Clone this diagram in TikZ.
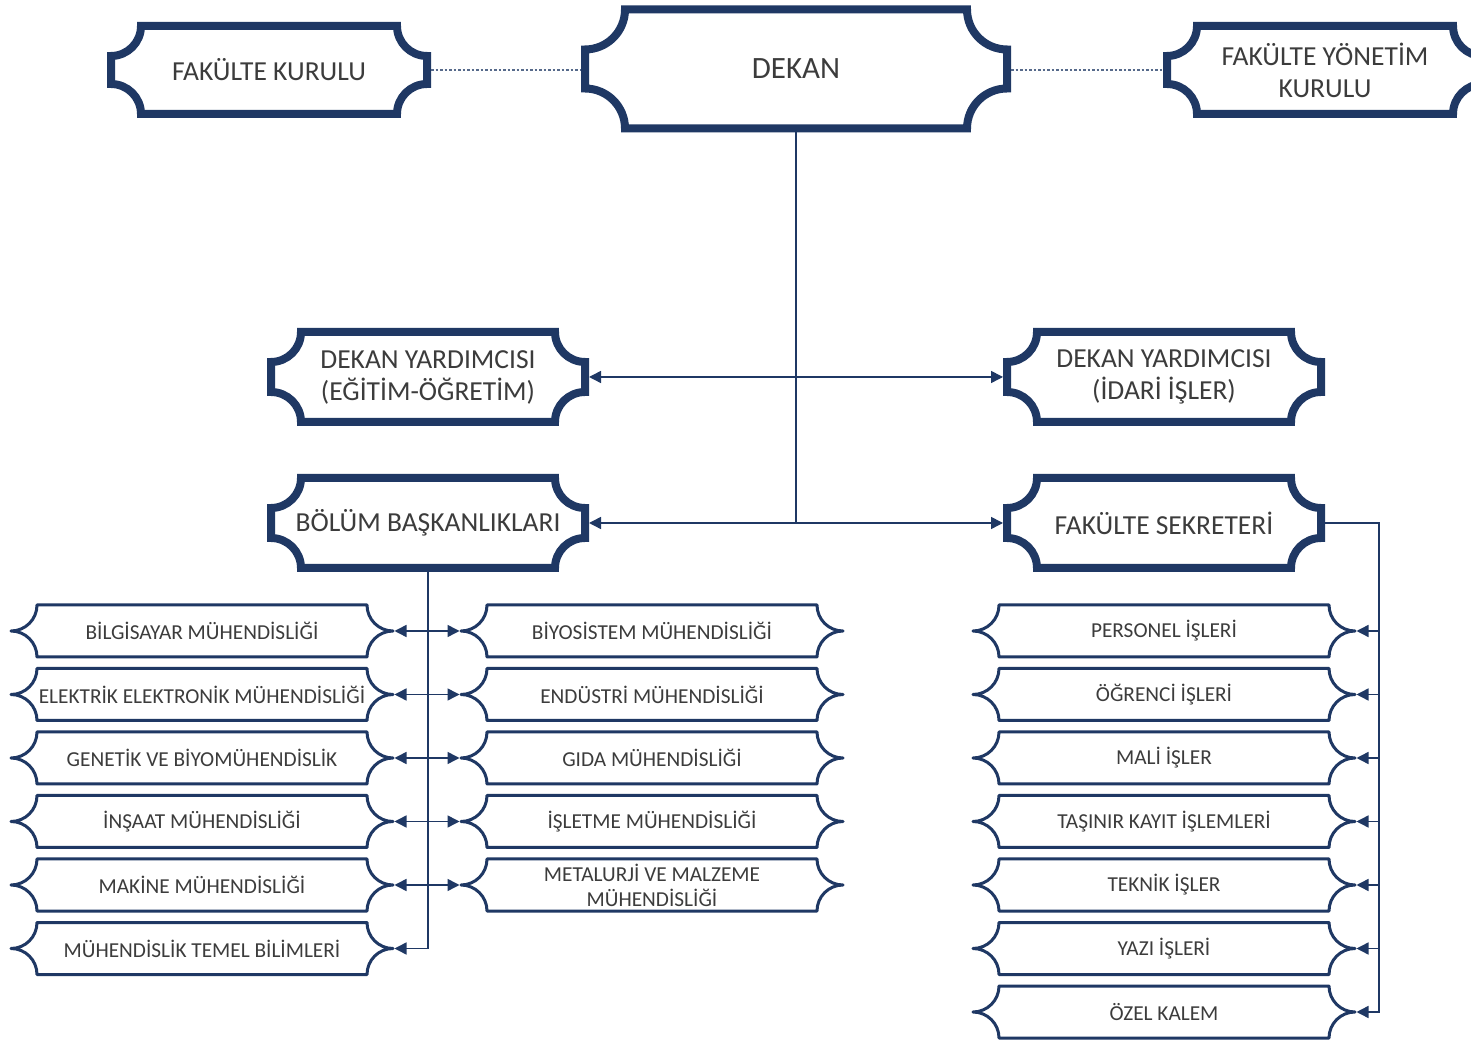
\documentclass[tikz,border=0pt]{standalone}
\usepackage{fontspec}
\setmainfont{Carlito}
\usetikzlibrary{arrows.meta,calc}
\definecolor{navy}{RGB}{31,56,100}
\definecolor{txt}{RGB}{60,60,60}
\tikzset{
  bigline/.style={draw=navy,line width=8pt,fill=white},
  smallline/.style={draw=navy,line width=3pt,fill=white,line join=round},
  bignode/.style={inner sep=0pt,outer sep=0pt,text=txt,align=center},
  smallnode/.style={inner sep=0pt,outer sep=0pt,text=txt,align=center,
    minimum width=385pt,minimum height=52pt,font=\fontsize{21.3}{25}\selectfont},
  conn/.style={draw=navy,line width=1.5pt},
  tip/.style={-{Triangle[length=12pt,width=12pt]}},
  tips/.style={{Triangle[length=12pt,width=12pt]}-{Triangle[length=12pt,width=12pt]}},
  dotline/.style={draw=navy!75,line width=1.5pt,dash pattern=on 2.5pt off 2pt}
}
% name, cx, cy, half width, half height, corner radius, font size, text
\newcommand\plaque[8]{%
  \draw[bigline] ({#2-#4+#6},{#3+#5}) -- ({#2+#4-#6},{#3+#5})
    arc[start angle=180,end angle=270,radius=#6] -- ({#2+#4},{#3-#5+#6})
    arc[start angle=90,end angle=180,radius=#6] -- ({#2-#4+#6},{#3-#5})
    arc[start angle=0,end angle=90,radius=#6] -- ({#2-#4},{#3+#5-#6})
    arc[start angle=270,end angle=360,radius=#6] -- cycle;
  \node[bignode,minimum width={2*#4+8},minimum height={2*#5+8},
        font=\fontsize{#7}{32}\selectfont] (#1) at (#2,#3) {#8};
}
% name, cx, cy, text
\newcommand\scroll[4]{%
  \draw[smallline] ({#2-165},{#3+26}) -- ({#2+165},{#3+26})
    arc[start angle=180,end angle=270,radius=26]
    arc[start angle=90,end angle=180,radius=26]
    -- ({#2-165},{#3-26})
    arc[start angle=0,end angle=90,radius=26]
    arc[start angle=270,end angle=360,radius=26] -- cycle;
  \node[smallnode] (#1) at (#2,#3) {#4};
}
\begin{document}
\begin{tikzpicture}[x=1pt,y=1pt]
\useasboundingbox (0,0) rectangle (1471,1041);
\clip (0,0) rectangle (1471,1041);
\fill[white] (0,0) rectangle (1471,1041);

% top row
\plaque{fk}{269}{971}{158}{44}{30}{27.5}{FAKÜLTE KURULU}
\plaque{dekan}{796}{972}{211}{59.5}{40}{31}{DEKAN}
\plaque{fyk}{1325}{971}{158}{44}{30}{27.5}{FAKÜLTE YÖNETİM\\KURULU}

% middle rows
\plaque{dy1}{428}{664}{157}{45}{30}{27.5}{DEKAN YARDIMCISI\\(EĞİTİM-ÖĞRETİM)}
\plaque{dy2}{1164}{664}{157}{45}{30}{27.5}{DEKAN YARDIMCISI\\(İDARİ İŞLER)}
\plaque{bb}{428}{518}{157}{45}{30}{27.5}{BÖLÜM BAŞKANLIKLARI}
\plaque{fs}{1164}{518}{157}{45}{30}{27.5}{FAKÜLTE SEKRETERİ}

% left column
\scroll{l1}{202}{410}{BİLGİSAYAR MÜHENDİSLİĞİ}
\scroll{l2}{202}{346.5}{ELEKTRİK ELEKTRONİK MÜHENDİSLİĞİ}
\scroll{l3}{202}{283}{GENETİK VE BİYOMÜHENDİSLİK}
\scroll{l4}{202}{219.5}{İNŞAAT MÜHENDİSLİĞİ}
\scroll{l5}{202}{156}{MAKİNE MÜHENDİSLİĞİ}
\scroll{l6}{202}{92.5}{MÜHENDİSLİK TEMEL BİLİMLERİ}

% middle column
\scroll{m1}{652}{410}{BİYOSİSTEM MÜHENDİSLİĞİ}
\scroll{m2}{652}{346.5}{ENDÜSTRİ MÜHENDİSLİĞİ}
\scroll{m3}{652}{283}{GIDA MÜHENDİSLİĞİ}
\scroll{m4}{652}{219.5}{İŞLETME MÜHENDİSLİĞİ}
\scroll{m5}{652}{156}{METALURJİ VE MALZEME\\MÜHENDİSLİĞİ}

% right column
\scroll{r1}{1164}{410}{PERSONEL İŞLERİ}
\scroll{r2}{1164}{346.5}{ÖĞRENCİ İŞLERİ}
\scroll{r3}{1164}{283}{MALİ İŞLER}
\scroll{r4}{1164}{219.5}{TAŞINIR KAYIT İŞLEMLERİ}
\scroll{r5}{1164}{156}{TEKNİK İŞLER}
\scroll{r6}{1164}{92.5}{YAZI İŞLERİ}
\scroll{r7}{1164}{29}{ÖZEL KALEM}

% connectors
\draw[dotline] (fk.east) -- (fk.east -| dekan.west);
\draw[dotline] (dekan.east |- fyk.west) -- (fyk.west);
\draw[conn] (dekan.south) -- (dekan.south |- bb.east);
\draw[conn,tips] (dy1.east) -- (dy2.west);
\draw[conn,tips] (bb.east) -- (fs.west);

\foreach \i in {1,...,5}{
  \draw[conn,tips] (l\i.east) -- (m\i.west);
}
\draw[conn,tip] (bb.south) |- (l6.east);

\coordinate (rv) at (1379,29);
\draw[conn,tip] (fs.east) -| (rv) -- (r7.east);
\foreach \i in {1,...,6}{
  \draw[conn,tip] (rv |- r\i.east) -- (r\i.east);
}
\end{tikzpicture}
\end{document}
